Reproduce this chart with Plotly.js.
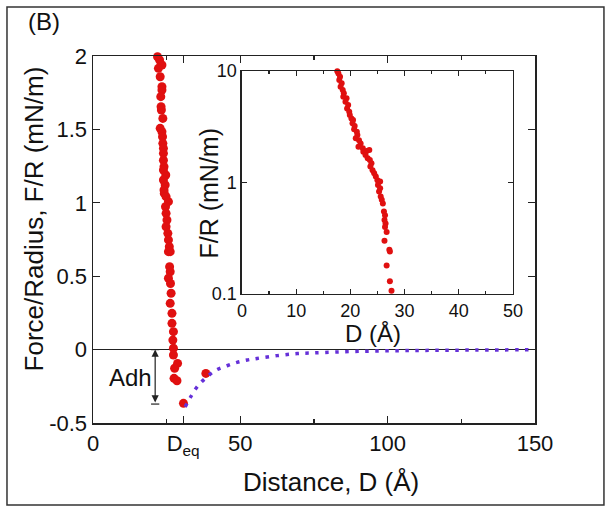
<!DOCTYPE html>
<html>
<head>
<meta charset="utf-8">
<script src="https://cdn.plot.ly/plotly-3.0.1.min.js"></script>
<style>html,body{margin:0;padding:0;background:#fff;}#chart{width:612px;height:512px;}</style>
</head>
<body>
<div id="chart"></div>
<script>
// Main panel: approach data (red points)
const mainD = [21.9,22.6,23.4,22.2,22.8,23.4,23.4,23.0,23.1,23.2,23.7,22.8,23.4,23.6,23.7,23.9,23.9,23.9,24.1,23.9,24.7,23.9,24.5,24.1,24.2,24.8,25.6,24.6,24.8,25.1,24.8,25.4,25.6,25.9,26.2,
  25.6,26.0,26.2,25.6,26.3,26.5,26.2,26.8,26.8,27.3,27.1,27.3,27.3,28.7,27.7,27.5,28.5,30.7,38.3];
const mainF = [1.995,1.973,1.939,1.916,1.859,1.791,1.768,1.723,1.655,1.632,1.575,1.507,1.484,1.45,1.405,1.371,1.337,1.29,1.246,1.223,1.189,1.155,1.121,1.087,1.064,1.042,1.008,0.973,0.928,0.883,0.837,0.792,0.747,0.701,0.667,
  0.667,0.565,0.53,0.486,0.45,0.384,0.315,0.247,0.179,0.122,0.065,0.009,-0.037,-0.094,-0.127,-0.196,-0.212,-0.366,-0.162];
// Main panel: dotted fit curve
const fitD = [31.3,33.2,35.5,38.7,41.8,45.5,48.9,52.3,55.7,62.5,69.3,75,90,110,130,150];
const fitF = [-0.39,-0.32,-0.25,-0.185,-0.139,-0.11,-0.087,-0.071,-0.06,-0.041,-0.027,-0.022,-0.012,-0.006,-0.003,-0.001];
// Inset: log scale
const insetD = [17.6,17.8,18.1,17.96,18.4,18.2,18.6,18.8,18.7,19.3,19.1,19.6,19.4,19.8,19.9,20.2,20.5,20.4,20.8,20.7,21.2,21.3,21.0,21.6,21.9,21.5,22.3,22.4,23.0,23.5,22.8,23.2,23.6,23.9,23.7,24.1,24.4,24.7,25.0,25.5,25.1,25.5,25.3,25.6,25.8,26.0,26.2,26.4,26.3,26.5,26.4,26.7,26.3,27.2,27.3,26.7,27.3,27.6];
const insetF = [9.95,9.53,8.89,8.3,7.76,7.23,6.76,6.31,5.89,5.69,5.31,4.95,4.62,4.31,4.03,3.76,3.64,3.40,3.21,3.00,2.86,2.67,2.49,2.40,2.24,2.09,2.03,1.89,1.92,1.96,1.77,1.65,1.59,1.49,1.39,1.29,1.21,1.13,1.05,1.02,0.95,0.89,0.83,0.75,0.70,0.65,0.55,0.51,0.46,0.43,0.40,0.36,0.30,0.25,0.24,0.18,0.13,0.107];
// Tick labels
const mainXTickVals = [0,30.6,50,100,150];
const mainXTickText = ['0','D<sub>eq</sub>','50','100','150'];
const mainYTickVals = [-0.5,0,0.5,1,1.5,2];
const mainYTickText = ['-0.5','0','0.5','1','1.5','2'];
const insetYTickVals = [0.1,1,10];
const insetYTickText = ['0.1','1','10'];
// Adhesion arrow
const adhX = 21.1, adhTop = 0, adhBottom = -0.371;

const FONT = 'Liberation Sans, Arial, sans-serif';
const red = '#e01010';

const traces = [
  {x: mainD, y: mainF, mode: 'markers', type: 'scatter', xaxis: 'x', yaxis: 'y',
   marker: {color: red, size: 9}, cliponaxis: false, showlegend: false},
  {x: fitD, y: fitF, mode: 'lines', type: 'scatter', xaxis: 'x', yaxis: 'y',
   line: {color: '#6530d8', width: 3.5, dash: '3.5px,6.5px', shape: 'spline'}, showlegend: false},
  {x: insetD, y: insetF, mode: 'markers', type: 'scatter', xaxis: 'x2', yaxis: 'y2',
   marker: {color: red, size: 6}, cliponaxis: false, showlegend: false}
];

const axBase = {showgrid: false, zeroline: false, showline: true, linecolor: '#222', linewidth: 1.5,
  mirror: 'ticks', ticks: 'inside', tickcolor: '#222', tickwidth: 1.2};

const layout = {
  width: 612, height: 512,
  margin: {l: 93, r: 77, t: 56, b: 89},
  paper_bgcolor: '#fff', plot_bgcolor: 'rgba(0,0,0,0)',
  font: {family: FONT, color: '#111'},
  showlegend: false,
  xaxis: Object.assign({}, axBase, {range: [0,150], domain: [0,1], tickmode: 'array',
    tickvals: mainXTickVals, ticktext: mainXTickText, ticklen: 7,
    tickfont: {size: 22, family: FONT, color: '#111'},
    minor: {tickmode: 'array', tickvals: [25,75,125], ticks: 'inside', ticklen: 4, tickcolor: '#222'}}),
  yaxis: Object.assign({}, axBase, {range: [-0.5,2], domain: [0,1], tickmode: 'array',
    tickvals: mainYTickVals, ticktext: mainYTickText, ticklen: 7,
    zeroline: true, zerolinecolor: '#222', zerolinewidth: 1.5,
    tickfont: {size: 22, family: FONT, color: '#111'}}),
  xaxis2: Object.assign({}, axBase, {range: [0,50], domain: [0.337,0.950], anchor: 'y2',
    dtick: 10, tick0: 0, ticklen: 5,
    tickfont: {size: 18, family: FONT, color: '#111'},
    minor: {dtick: 5, tick0: 0, ticks: 'inside', ticklen: 3, tickcolor: '#222'}}),
  yaxis2: Object.assign({}, axBase, {type: 'log', range: [-1,1], domain: [0.3515,0.959], anchor: 'x2',
    tickmode: 'array', tickvals: insetYTickVals, ticktext: insetYTickText, ticklen: 5,
    tickfont: {size: 18, family: FONT, color: '#111'}}),
  shapes: [
    {type: 'rect', xref: 'paper', yref: 'paper', x0: -0.1946, x1: 1.156, y0: -0.2234, y1: 1.1335,
     line: {color: '#333', width: 1.5}},
    {type: 'line', xref: 'x', yref: 'y', x0: adhX-1.4, x1: adhX+1.4, y0: adhTop, y1: adhTop, line: {color: '#222', width: 1.2}},
    {type: 'line', xref: 'x', yref: 'y', x0: adhX-1.4, x1: adhX+1.4, y0: adhBottom, y1: adhBottom, line: {color: '#222', width: 1.2}}
  ],
  annotations: [
    {text: '(B)', xref: 'paper', yref: 'paper', x: -0.111, y: 1.093, showarrow: false,
     xanchor: 'center', yanchor: 'middle', font: {size: 24, family: FONT, color: '#111'}},
    {text: 'Distance, D (Å)', xref: 'paper', yref: 'paper', x: 0.538, y: -0.161, showarrow: false,
     xanchor: 'center', yanchor: 'middle', font: {size: 26, family: FONT, color: '#111'}},
    {text: 'Force/Radius, F/R (mN/m)', xref: 'paper', yref: 'paper', x: -0.1346, y: 0.556, showarrow: false,
     textangle: -90, xanchor: 'center', yanchor: 'middle', font: {size: 26, family: FONT, color: '#111'}},
    {text: 'F/R (mN/m)', xref: 'paper', yref: 'paper', x: 0.2624, y: 0.628, showarrow: false,
     textangle: -90, xanchor: 'center', yanchor: 'middle', font: {size: 25, family: FONT, color: '#111'}},
    {text: 'D (Å)', xref: 'paper', yref: 'paper', x: 0.6335, y: 0.243, showarrow: false,
     xanchor: 'center', yanchor: 'middle', font: {size: 24, family: FONT, color: '#111'}},
    {text: 'Adh', xref: 'x', yref: 'y', x: 12.6, y: -0.19, showarrow: false,
     font: {size: 24, family: FONT, color: '#111'}},
    {text: '', xref: 'x', yref: 'y', x: adhX, y: adhTop, axref: 'x', ayref: 'y', ax: adhX, ay: adhBottom,
     showarrow: true, arrowside: 'end+start', arrowhead: 2, startarrowhead: 2, arrowsize: 1.2, startarrowsize: 1.2,
     arrowwidth: 1.2, arrowcolor: '#222'}
  ]
};

Plotly.newPlot('chart', traces, layout, {staticPlot: true, displayModeBar: false});
</script>
</body>
</html>
